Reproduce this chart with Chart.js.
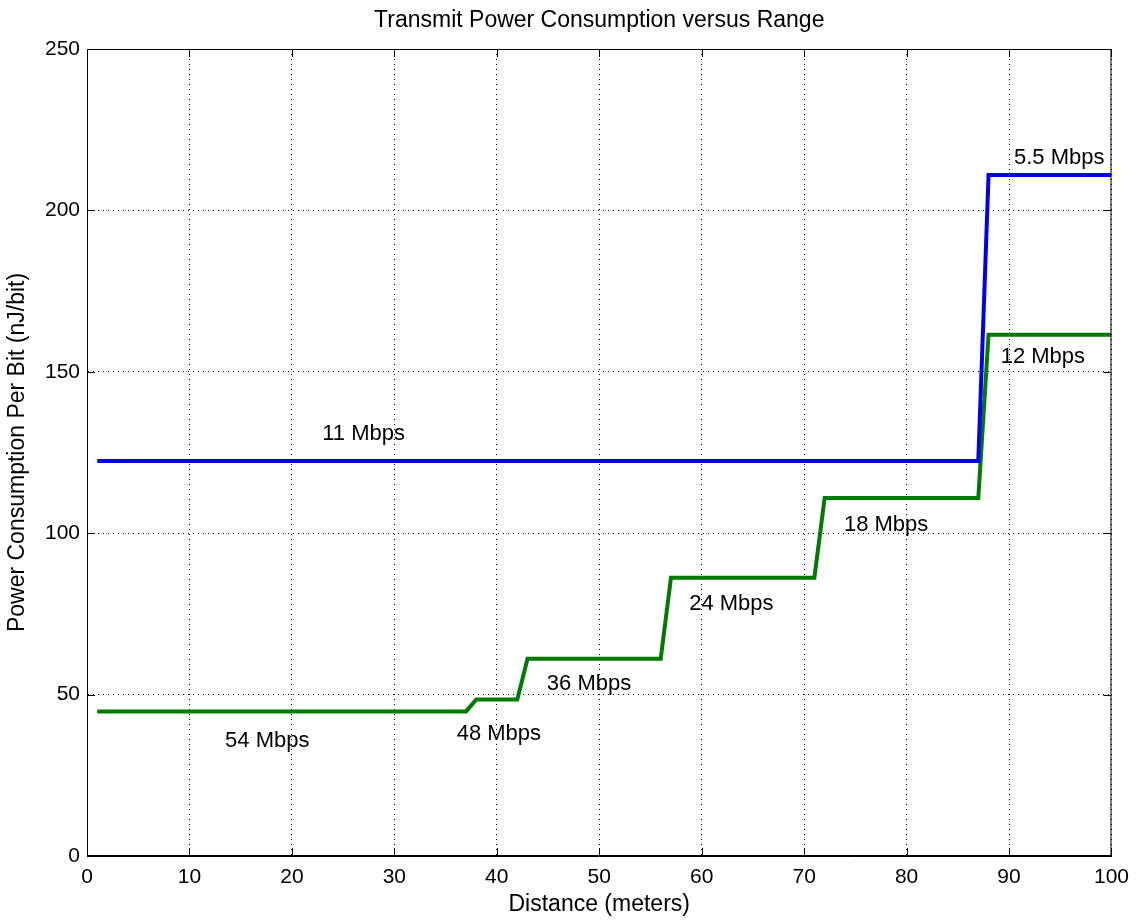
<!DOCTYPE html>
<html>
<head>
<meta charset="utf-8">
<script src="https://cdn.jsdelivr.net/npm/chart.js@4.4.1/dist/chart.umd.min.js"></script>
<style>
  html, body { margin: 0; padding: 0; background: #fff; }
  #wrap { width: 1138px; height: 920px; }
</style>
</head>
<body>
<div id="wrap"><canvas id="powerChart" width="1138" height="920"></canvas></div>
<script>
// --- Data ---
const blueX = [1, 87, 88, 100];
const blueY = [122.4, 122.4, 211, 211];

const greenX = [1, 37, 38, 42, 43, 56, 57, 71, 72, 87, 88, 100];
const greenY = [44.8, 44.8, 48.5, 48.5, 61.1, 61.1, 86.2, 86.2, 110.9, 110.9, 161.5, 161.5];

const xTicks = [0, 10, 20, 30, 40, 50, 60, 70, 80, 90, 100];
const yTicks = [0, 50, 100, 150, 200, 250];

// rate labels, placed in data coordinates (centre of text)
const rateText = ['11 Mbps', '5.5 Mbps', '12 Mbps', '18 Mbps', '24 Mbps', '36 Mbps', '48 Mbps', '54 Mbps'];
const rateX = [27.0, 94.9, 93.3, 78.0, 62.9, 49.0, 40.2, 17.6];
const rateY = [130.7, 216.4, 154.5, 102.6, 78.2, 53.4, 37.9, 35.7];

const FONT = "'Liberation Sans', Arial, Helvetica, sans-serif";

const toPoints = (xs, ys) => xs.map((x, i) => ({ x: x, y: ys[i] }));

// frame box, inward ticks and rate labels (MATLAB look)
const matlabExtras = {
    id: 'matlabExtras',
    afterDatasetsDraw(chart) {
        const { ctx, chartArea: a, scales: { x, y } } = chart;
        ctx.save();
        ctx.strokeStyle = '#000';
        ctx.lineWidth = 1;
        ctx.strokeRect(a.left + 0.5, a.top + 0.5, a.right - a.left - 1, a.bottom - a.top - 1);
        ctx.beginPath();
        xTicks.forEach(v => {
            const px = Math.round(x.getPixelForValue(v)) + 0.5;
            ctx.moveTo(px, a.bottom); ctx.lineTo(px, a.bottom - 8);
            ctx.moveTo(px, a.top); ctx.lineTo(px, a.top + 8);
        });
        yTicks.forEach(v => {
            const py = Math.round(y.getPixelForValue(v)) + 0.5;
            ctx.moveTo(a.left, py); ctx.lineTo(a.left + 8, py);
            ctx.moveTo(a.right, py); ctx.lineTo(a.right - 8, py);
        });
        ctx.stroke();

        ctx.fillStyle = '#000';
        ctx.font = '22px ' + FONT;
        ctx.textAlign = 'center';
        ctx.textBaseline = 'middle';
        rateText.forEach((t, i) => {
            ctx.fillText(t, x.getPixelForValue(rateX[i]), y.getPixelForValue(rateY[i]));
        });
        ctx.restore();
    }
};

const ctx = document.getElementById('powerChart').getContext('2d');
new Chart(ctx, {
    type: 'line',
    data: {
        datasets: [{
            label: 'blue',
            data: toPoints(blueX, blueY),
            borderColor: '#0000f0',
            borderWidth: 4,
            pointRadius: 0,
            tension: 0
        }, {
            label: 'green',
            data: toPoints(greenX, greenY),
            borderColor: '#007a00',
            borderWidth: 4,
            pointRadius: 0,
            tension: 0
        }]
    },
    options: {
        responsive: false,
        animation: false,
        layout: { padding: { top: 0, right: 23, bottom: 2, left: 0 } },
        plugins: {
            legend: { display: false },
            tooltip: { enabled: false },
            title: {
                display: true,
                text: 'Transmit Power Consumption versus Range',
                fullSize: false,
                color: '#000',
                font: { family: FONT, size: 23, weight: 'normal' },
                padding: { top: 7, bottom: 14.4 }
            }
        },
        scales: {
            x: {
                type: 'linear',
                min: 0, max: 100,
                afterFit: s => { s.height = 62; },
                afterBuildTicks: s => { s.ticks = xTicks.map(v => ({ value: v })); },
                grid: { color: '#000', drawTicks: false, lineWidth: 1 },
                border: { display: true, color: '#000', width: 1, dash: [1, 4] },
                ticks: { color: '#000', padding: 9, maxRotation: 0, font: { family: FONT, size: 21 } },
                title: {
                    display: true,
                    text: 'Distance (meters)',
                    color: '#000',
                    font: { family: FONT, size: 23 },
                    padding: 0
                }
            },
            y: {
                type: 'linear',
                min: 0, max: 250,
                afterFit: s => { s.width = 87; },
                afterBuildTicks: s => { s.ticks = yTicks.map(v => ({ value: v })); },
                grid: { color: '#000', drawTicks: false, lineWidth: 1 },
                border: { display: true, color: '#000', width: 1, dash: [1, 4] },
                ticks: { color: '#000', padding: 7, font: { family: FONT, size: 21 } },
                title: {
                    display: true,
                    text: 'Power Consumption Per Bit (nJ/bit)',
                    color: '#000',
                    font: { family: FONT, size: 23 },
                    padding: { top: 4, bottom: 0 }
                }
            }
        }
    },
    plugins: [matlabExtras]
});
</script>
</body>
</html>
